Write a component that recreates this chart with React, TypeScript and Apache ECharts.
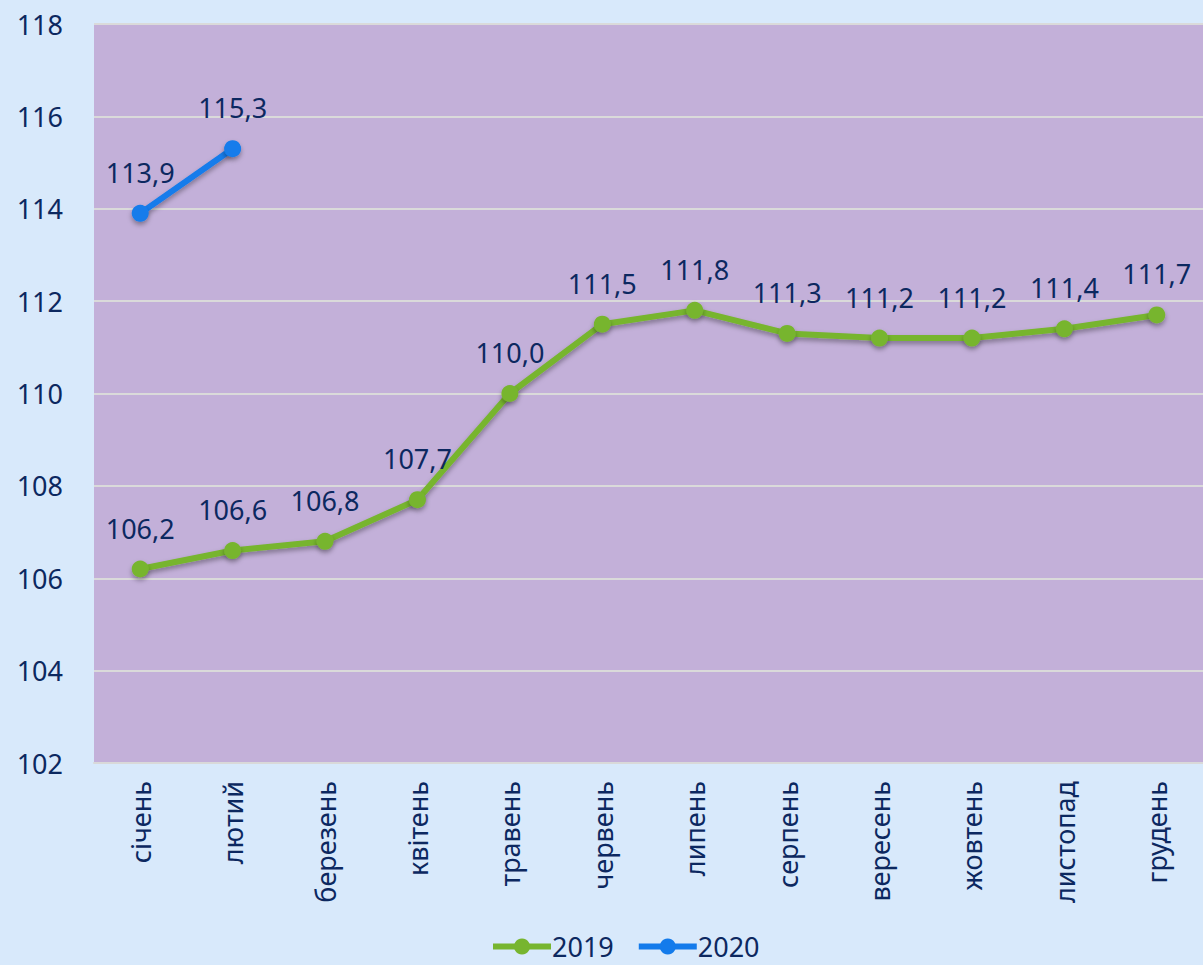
import React, { useEffect, useRef } from "react";
import * as echarts from "echarts";

const categories = ["січень", "лютий", "березень", "квітень", "травень", "червень", "липень", "серпень", "вересень", "жовтень", "листопад", "грудень"];
const values2019 = [106.2, 106.6, 106.8, 107.7, 110.0, 111.5, 111.8, 111.3, 111.2, 111.2, 111.4, 111.7];
const values2020: (number | null)[] = [113.9, 115.3, null, null, null, null, null, null, null, null, null, null];
const yTicks = { min: 102, max: 118, interval: 2 };

const TEXT = "#0C2860";
const FONT = "Noto Sans";

export default function App() {
  const ref = useRef<HTMLDivElement>(null);
  useEffect(() => {
    const chart = echarts.init(ref.current!, null, { renderer: "svg" });
    const fmt = (p: any) => (p.value == null ? "" : Number(p.value).toFixed(1).replace(".", ","));
    const lineSeries = (name: string, data: (number | null)[], color: string) => ({
      name,
      type: "line",
      data,
      symbol: "circle",
      symbolSize: 17,
      color,
      lineStyle: { width: 6, color, shadowColor: "rgba(0,0,0,0.35)", shadowBlur: 5, shadowOffsetY: 3 },
      itemStyle: { color, shadowColor: "rgba(0,0,0,0.35)", shadowBlur: 5, shadowOffsetY: 3 },
      label: {
        show: true,
        position: "top",
        distance: 19,
        formatter: fmt,
        color: TEXT,
        fontFamily: FONT,
        fontSize: 27,
      },
      connectNulls: false,
    });
    chart.setOption({
      animation: false,
      backgroundColor: "#D8E9FB",
      textStyle: { fontFamily: FONT },
      grid: { left: 94, right: -3, top: 24, bottom: 202, containLabel: false, show: true, backgroundColor: "#C3B0D9", borderWidth: 0 },
      xAxis: {
        type: "category",
        data: categories,
        boundaryGap: true,
        axisLine: { show: true, lineStyle: { color: "#D9D9D9", width: 2 } },
        axisTick: { show: false },
        axisLabel: { rotate: 90, margin: 18, color: TEXT, fontFamily: FONT, fontSize: 27 },
      },
      yAxis: {
        type: "value",
        min: yTicks.min,
        max: yTicks.max,
        interval: yTicks.interval,
        axisLine: { show: false },
        axisTick: { show: false },
        axisLabel: { margin: 31, color: TEXT, fontFamily: FONT, fontSize: 27 },
        splitLine: { show: true, lineStyle: { color: "#DADADA", width: 2 } },
      },
      legend: {
        bottom: 0,
        left: 485,
        itemWidth: 58,
        itemHeight: 20,
        itemGap: 22,
        lineStyle: { width: 6 },
        textStyle: { color: TEXT, fontFamily: FONT, fontSize: 27, padding: [0, 0, 0, -4] },
        data: ["2019", "2020"],
      },
      series: [lineSeries("2019", values2019, "#77B52F"), lineSeries("2020", values2020, "#137BEB")],
    });
    return () => chart.dispose();
  }, []);
  return <div ref={ref} style={{ position: "fixed", left: 0, top: 0, width: 1203, height: 965 }} />;
}
